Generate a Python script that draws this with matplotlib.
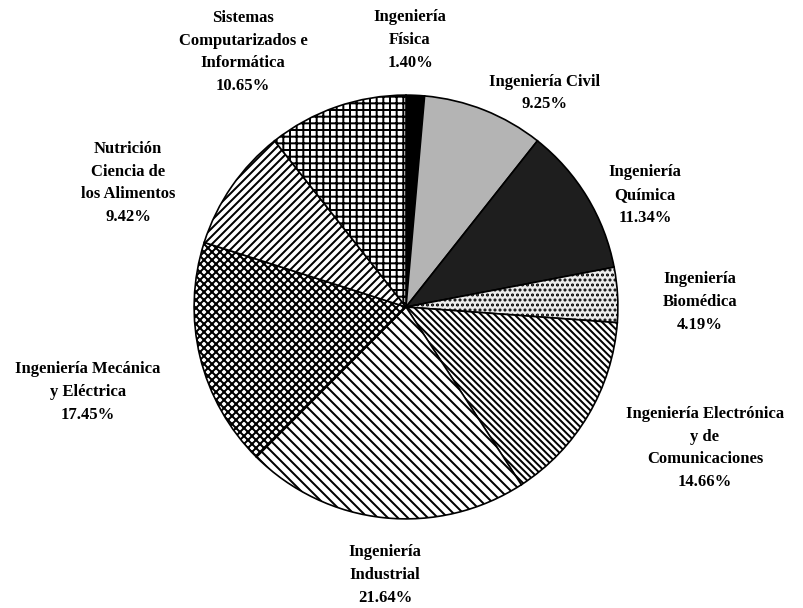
import matplotlib
matplotlib.use("Agg")
import matplotlib.pyplot as plt

# ---- data ----
categories = [
    "Ingeniería\nFísica",
    "Ingeniería Civil",
    "Ingeniería\nQuímica",
    "Ingeniería\nBiomédica",
    "Ingeniería Electrónica\ny de\nComunicaciones",
    "Ingeniería\nIndustrial",
    "Ingeniería Mecánica\ny Eléctrica",
    "Nutrición\nCiencia de\nlos Alimentos",
    "Sistemas\nComputarizados e\nInformática",
]
values = [1.40, 9.25, 11.34, 4.19, 14.66, 21.64, 17.45, 9.42, 10.65]

# ---- styles ----
faces = ["#000000", "#b4b4b4", "#1e1e1e", "#ececec", "white", "white", "white", "white", "white"]
hatches = [None, None, None, "....", "\\" * 6, "\\" * 4, "x" * 5, "/" * 5, "+++"]
# label block centres in figure pixels (layout)
label_pos = [(410, 40), (545, 93), (645, 195), (700, 302), (705, 448),
             (385, 575), (88, 392), (128, 183), (243, 52)]

W, H, DPI = 803, 608, 120
plt.rcParams["hatch.linewidth"] = 1.2
fig = plt.figure(figsize=(W / DPI, H / DPI), dpi=DPI)
cx, cy, r = 406, 307, 214
ax = fig.add_axes([(cx - r) / W, (H - cy - r) / H, 2 * r / W, 2 * r / H])
wedges, _ = ax.pie(values, startangle=90, counterclock=False, radius=1,
                   wedgeprops=dict(edgecolor="black", linewidth=1.0))
for w, fc, h in zip(wedges, faces, hatches):
    w.set_facecolor(fc)
    if h:
        w.set_hatch(h)
ax.set_xlim(-1.01, 1.01)
ax.set_ylim(-1.01, 1.01)
ax.axis("off")

for cat, v, (px, py) in zip(categories, values, label_pos):
    fig.text(px / W, 1 - py / H, f"{cat}\n{v:.2f}%", ha="center", va="center",
             multialignment="center", fontsize=10, fontweight="bold",
             family="Liberation Serif", linespacing=1.55)

fig.savefig("out.png", dpi=DPI, facecolor="white")
